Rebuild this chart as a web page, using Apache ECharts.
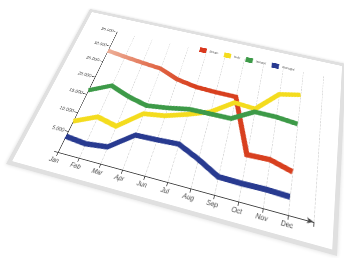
<!DOCTYPE html>
<html><head><meta charset="utf-8">
<script src="https://cdn.jsdelivr.net/npm/echarts@6.0.0/dist/echarts.min.js"></script>
<style>
html,body{margin:0;padding:0;background:#fff;width:344px;height:258px;overflow:hidden;position:relative}
#paper{position:absolute;left:0;top:0;width:440px;height:300px;background:#fff;border:6px solid #e0e0e0;box-sizing:border-box;transform-origin:0 0;box-shadow:0 0 5px rgba(0,0,0,0.14)}
#chart{position:absolute;left:0;top:0;width:460px;height:300px;transform-origin:0 0}
</style></head><body>
<div id="paper"></div><div id="chart"></div>
<script>
const months = ['Jan','Feb','Mar','Apr','Jun','Jul','Aug','Sep','Oct','Nov','Dec',''];
const seriesNames = ['Britain','Italy','Ireland','Portugal'];
const red    = [28500, 27800, 27200, 26700, 24700, 23800, 23600, 23600, 10100, 10300, 8900];
const yellow = [7600, 10100, 9000, 13600, 14400, 16100, 18100, 22000, 21600, 27000, 28200];
const green  = [16100, 18800, 17000, 15800, 16500, 17500, 17600, 17700, 20800, 20800, 20300];
const blue   = [3800, 3300, 3900, 8100, 8300, 8600, 6400, 3800, 3700, 3800, 3600];
const yTicks = [0, 5000, 10000, 15000, 20000, 25000, 30000, 35000];

function homography(src, dst){
  const A=[], b=[];
  for(let i=0;i<4;i++){
    const [x,y]=src[i],[u,v]=dst[i];
    A.push([x,y,1,0,0,0,-u*x,-u*y]); b.push(u);
    A.push([0,0,0,x,y,1,-v*x,-v*y]); b.push(v);
  }
  const n=8;
  for(let c=0;c<n;c++){
    let p=c; for(let r=c+1;r<n;r++) if(Math.abs(A[r][c])>Math.abs(A[p][c])) p=r;
    [A[c],A[p]]=[A[p],A[c]]; [b[c],b[p]]=[b[p],b[c]];
    for(let r=0;r<n;r++){ if(r===c) continue; const f=A[r][c]/A[c][c];
      for(let k=c;k<n;k++) A[r][k]-=f*A[c][k]; b[r]-=f*b[c]; }
  }
  return b.map((v,i)=>v/A[i][i]);
}
function toCss(h){
  const [a,b,c,d,e,f,g,k]=h;
  return 'matrix3d('+[a,d,0,g,b,e,0,k,0,0,1,0,c,f,0,1].join(',')+')';
}
const G = {left:70, top:50, width:330, height:200};
const gx0=G.left, gy0=G.top, gyb=G.top+G.height, gxDec=G.left+G.width*10/11;
document.getElementById('chart').style.transform = toCss(homography(
  [[gx0,gyb],[gx0,gy0],[gxDec,gyb],[gxDec,gy0]],
  [[58,152],[117,32],[288,215],[303,72]]));
document.getElementById('paper').style.transform = toCss(homography(
  [[0,0],[440,0],[440,300],[0,300]],
  [[90,9],[346,64],[337,256],[6,164]]));

const chart = echarts.init(document.getElementById('chart'), null, {devicePixelRatio:2});
const lw = 7;
chart.setOption({
  animation:false,
  grid:{left:G.left, top:G.top, width:G.width, height:G.height},
  legend:{
    left:204, top:40, itemWidth:11, itemHeight:9, itemGap:9, icon:'rect',
    data:seriesNames,
    textStyle:{fontSize:5, color:'#555'}
  },
  xAxis:{
    type:'category', data:months, boundaryGap:false,
    axisLine:{lineStyle:{color:'#444', width:1}, symbol:['none','arrow'], symbolSize:[5,8]},
    axisTick:{show:true, length:5, lineStyle:{color:'#444'}},
    axisLabel:{interval:0, fontSize:8, color:'#444', margin:7, fontStyle:'italic'},
    splitLine:{show:true, lineStyle:{type:'dashed', color:'#d0d0d0', width:0.8}}
  },
  yAxis:{
    type:'value', min:0, max:35000, interval:5000,
    axisLine:{show:true, lineStyle:{color:'#444', width:1}},
    axisTick:{show:true, length:5, lineStyle:{color:'#444'}},
    axisLabel:{fontSize:7, color:'#444', margin:6, formatter: v => v===0 ? '' : (v/1000)+'.000'},
    splitLine:{show:false}
  },
  series:[
    {name:seriesNames[0], type:'line', data:red, showSymbol:false, itemStyle:{color:'#d9381e'},
     lineStyle:{width:lw, cap:'butt', join:'miter', color:{type:'linear',x:0,y:0,x2:1,y2:0,colorStops:[
       {offset:0,color:'#eeb39c'},{offset:0.3,color:'#e06443'},{offset:0.5,color:'#d8401f'},{offset:1,color:'#d8401f'}]}}},
    {name:seriesNames[1], type:'line', data:yellow, showSymbol:false, itemStyle:{color:'#f4dc1e'},
     lineStyle:{width:lw, cap:'butt', join:'miter', color:'#f4dc1e'}},
    {name:seriesNames[2], type:'line', data:green, showSymbol:false, itemStyle:{color:'#3d9a48'},
     lineStyle:{width:lw, cap:'butt', join:'miter', color:'#3d9a48'}},
    {name:seriesNames[3], type:'line', data:blue, showSymbol:false, itemStyle:{color:'#283a90'},
     lineStyle:{width:lw, cap:'butt', join:'miter', color:'#283a90'}}
  ]
});
</script>
</body></html>
